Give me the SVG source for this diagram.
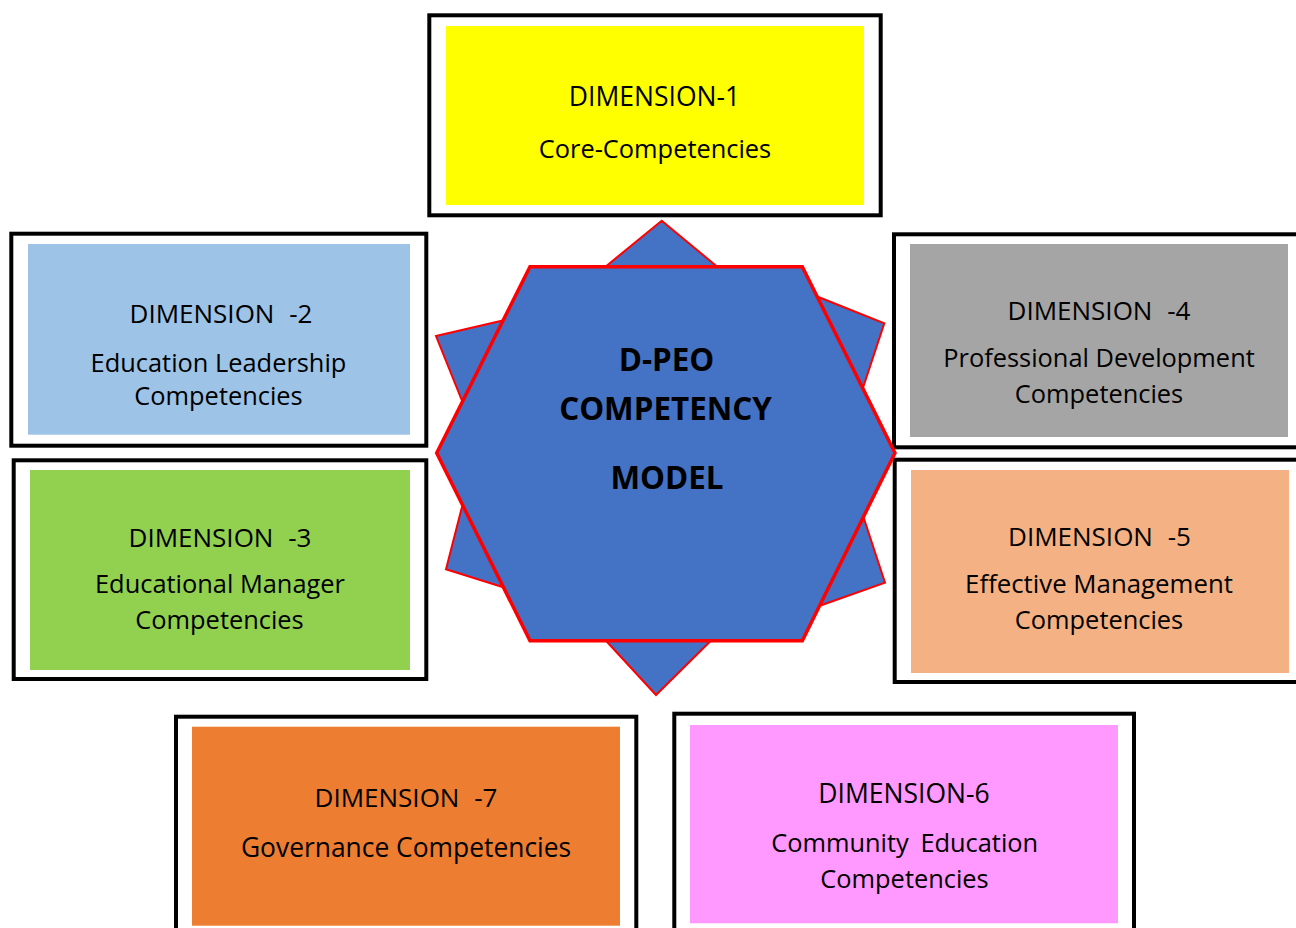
<svg xmlns="http://www.w3.org/2000/svg" width="1296" height="928" viewBox="0 0 1296 928">
  <style>
    .frame { fill: #FFFFFF; stroke: #000000; stroke-width: 4; }
    .lbl { font-family: "Open Sans", "Noto Sans", sans-serif; font-size: 25.4px; fill: #000000; text-anchor: middle; }
    .ttl { word-spacing: 8px; font-size: 26px; }
    .core { font-family: "Open Sans", "Noto Sans", sans-serif; font-weight: bold; font-size: 31.4px; fill: #000000; text-anchor: middle; }
  </style>

  <rect x="0" y="0" width="1296" height="928" fill="#FFFFFF"/>

  <!-- Dimension boxes: black frame with a coloured panel inside -->
  <g id="dim1">
    <rect class="frame" x="429.3" y="15.3" width="451.4" height="200"/>
    <rect x="446" y="26" width="418" height="179" fill="#FFFF00"/>
    <text class="lbl" x="654.5" y="106" style="font-size:26.5px">DIMENSION-1</text>
    <text class="lbl" x="655" y="158">Core-Competencies</text>
  </g>

  <g id="dim2">
    <rect class="frame" x="11.3" y="233.7" width="415" height="212"/>
    <rect x="28" y="244" width="382" height="190.7" fill="#9DC3E6"/>
    <text class="lbl ttl" x="221" y="323.3">DIMENSION -2</text>
    <text class="lbl" x="218.5" y="371.7">Education Leadership</text>
    <text class="lbl" x="218.5" y="405">Competencies</text>
  </g>

  <g id="dim3">
    <rect class="frame" x="13.7" y="460.3" width="412.6" height="218.7"/>
    <rect x="30" y="470" width="380" height="200" fill="#92D050"/>
    <text class="lbl ttl" x="220" y="546.7">DIMENSION -3</text>
    <text class="lbl" x="220" y="593.3">Educational Manager</text>
    <text class="lbl" x="219.5" y="629">Competencies</text>
  </g>

  <g id="dim4">
    <rect class="frame" x="894" y="234.3" width="410" height="213"/>
    <rect x="910" y="244" width="378" height="193" fill="#A5A5A5"/>
    <text class="lbl ttl" x="1099" y="320">DIMENSION -4</text>
    <text class="lbl" x="1099" y="367.3">Professional Development</text>
    <text class="lbl" x="1099" y="403.3">Competencies</text>
  </g>

  <g id="dim5">
    <rect class="frame" x="894.7" y="459.7" width="410" height="222.3"/>
    <rect x="911" y="470" width="378" height="203" fill="#F4B183"/>
    <text class="lbl ttl" x="1099.5" y="546">DIMENSION -5</text>
    <text class="lbl" x="1099" y="593.3" style="font-size:25.8px">Effective Management</text>
    <text class="lbl" x="1099" y="629.3">Competencies</text>
  </g>

  <g id="dim6">
    <rect class="frame" x="674.3" y="713.7" width="459.7" height="240"/>
    <rect x="690" y="725" width="428" height="198.3" fill="#FF99FF"/>
    <text class="lbl" x="904" y="803.3" style="font-size:26.5px">DIMENSION-6</text>
    <text class="lbl" x="904.7" y="851.7" style="word-spacing:5px">Community Education</text>
    <text class="lbl" x="904.5" y="888.3">Competencies</text>
  </g>

  <g id="dim7">
    <rect class="frame" x="176" y="716.7" width="460.3" height="240"/>
    <rect x="192" y="726.7" width="428" height="199" fill="#ED7D31"/>
    <text class="lbl ttl" x="406" y="806.7">DIMENSION -7</text>
    <text class="lbl" x="406" y="856.7" style="font-size:26.4px">Governance Competencies</text>
  </g>

  <!-- Centre emblem: star points behind a red-edged hexagon -->
  <g id="model">
    <polygon fill="#4472C4" stroke="#FF0000" stroke-width="2" stroke-linejoin="miter"
      points="661.7,220.7 712.7,263 728,275.7 794,287.3 824,299.3 884.3,323.3 865,381.7 855.4,410.9 855,491.2 865,521.7 885,582.7 824,604.3 793.5,615.1 729.2,622.6 708.3,643.3 656,695 608.3,643.3 589.2,622.6 529.6,595.4 501.7,586.7 446,569.3 461.7,508 469.6,477.4 474.6,432 461.7,400 436,336 501.7,320.7 534.6,313 594.5,275.7 610,263"/>
    <polygon fill="#4472C4" stroke="#FF0000" stroke-width="3.5" stroke-linejoin="miter"
      points="530,266.7 802.3,266.7 895,453 802.3,640.7 530,640.7 436.7,453"/>
    <text class="core" x="666.5" y="370.7">D-PEO</text>
    <text class="core" x="665.5" y="420">COMPETENCY</text>
    <text class="core" x="667" y="489.3">MODEL</text>
  </g>

  <g id="connectors"/>
</svg>
